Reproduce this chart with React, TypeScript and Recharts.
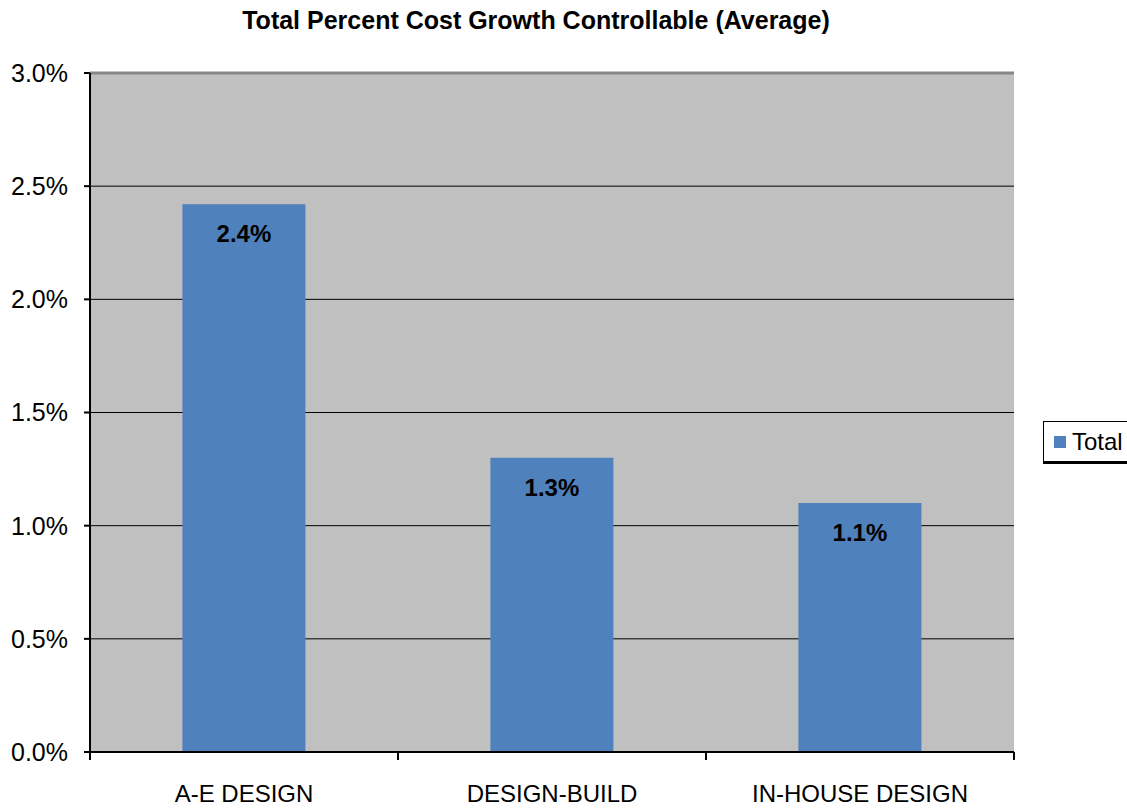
import { BarChart, Bar, XAxis, YAxis, CartesianGrid, LabelList, ReferenceLine } from "recharts";

const categories = ["A-E DESIGN", "DESIGN-BUILD", "IN-HOUSE DESIGN"];
const totals = [2.42, 1.3, 1.1];
const yTicks = [0, 0.5, 1, 1.5, 2, 2.5, 3];

const W = 1127;
const H = 808;
const X_H = 30;
const MARGIN = { top: 73, right: 113, bottom: 56 - X_H, left: 0 };
const Y_W = 90;
const PLOT_W = W - MARGIN.right - Y_W;
const BAND = PLOT_W / categories.length;

const FONT = "'Liberation Sans', Arial, sans-serif";
const BLUE = "#4F81BD";

const data = categories.map((c, i) => ({ name: c, total: totals[i] }));

function CatTick(props: any) {
  const { x, y, payload, index } = props;
  const last = index === categories.length - 1;
  return (
    <g>
      <line x1={x - BAND / 2} x2={x - BAND / 2} y1={y} y2={y + 8} stroke="#000" strokeWidth={2} />
      {last && <line x1={x + BAND / 2} x2={x + BAND / 2} y1={y} y2={y + 8} stroke="#000" strokeWidth={2} />}
      <text x={x} y={y + 50} textAnchor="middle" fontSize={24} fill="#000" fontFamily={FONT}>
        {payload.value}
      </text>
    </g>
  );
}

export default function App() {
  return (
    <div style={{ position: "absolute", left: 0, top: 0, width: W, height: H, background: "#fff", fontFamily: FONT }}>
      <div
        style={{
          position: "absolute",
          left: 0,
          width: 1072,
          top: 6,
          textAlign: "center",
          fontWeight: "bold",
          fontSize: 25,
        }}
      >
        Total Percent Cost Growth Controllable (Average)
      </div>
      <BarChart width={W} height={H} data={data} margin={MARGIN} barCategoryGap="30%">
        <CartesianGrid vertical={false} stroke="#000" strokeWidth={1} fill="#C0C0C0" fillOpacity={1} />
        <XAxis
          dataKey="name"
          height={X_H}
          tickLine={false}
          tickSize={0}
          tickMargin={0}
          axisLine={{ stroke: "#000", strokeWidth: 2 }}
          tick={<CatTick />}
          interval={0}
        />
        <YAxis
          width={Y_W}
          domain={[0, 3]}
          ticks={yTicks}
          tickFormatter={(v: number) => v.toFixed(1) + "%"}
          tick={{ fontSize: 25, fill: "#000", fontFamily: FONT }}
          tickSize={6}
          tickMargin={16}
          tickLine={{ stroke: "#000", strokeWidth: 2 }}
          axisLine={{ stroke: "#000", strokeWidth: 2 }}
        />
        <YAxis
          yAxisId="r"
          orientation="right"
          width={0}
          domain={[0, 3]}
          tick={false}
          tickLine={false}
          axisLine={{ stroke: "#868686", strokeWidth: 2 }}
        />
        <ReferenceLine y={3} stroke="#868686" strokeWidth={3} />
        <Bar dataKey="total" fill={BLUE} isAnimationActive={false} name="Total">
          <LabelList
            dataKey="total"
            position="insideTop"
            offset={21}
            formatter={(v: any) => Number(v).toFixed(1) + "%"}
            fill="#000"
            fontSize={24}
            fontWeight="bold"
            fontFamily={FONT}
          />
        </Bar>
      </BarChart>
      {/* Legend */}
      <div
        style={{
          position: "absolute",
          left: 1043,
          top: 421,
          width: 90,
          height: 41,
          border: "1px solid #000",
          boxShadow: "0 2px 0 #000",
          background: "#fff",
          display: "flex",
          alignItems: "center",
          paddingLeft: 10,
          boxSizing: "border-box",
          fontSize: 24,
        }}
      >
        <span style={{ width: 12, height: 12, background: BLUE, display: "inline-block", marginRight: 6 }} />
        <span>Total</span>
      </div>
    </div>
  );
}
